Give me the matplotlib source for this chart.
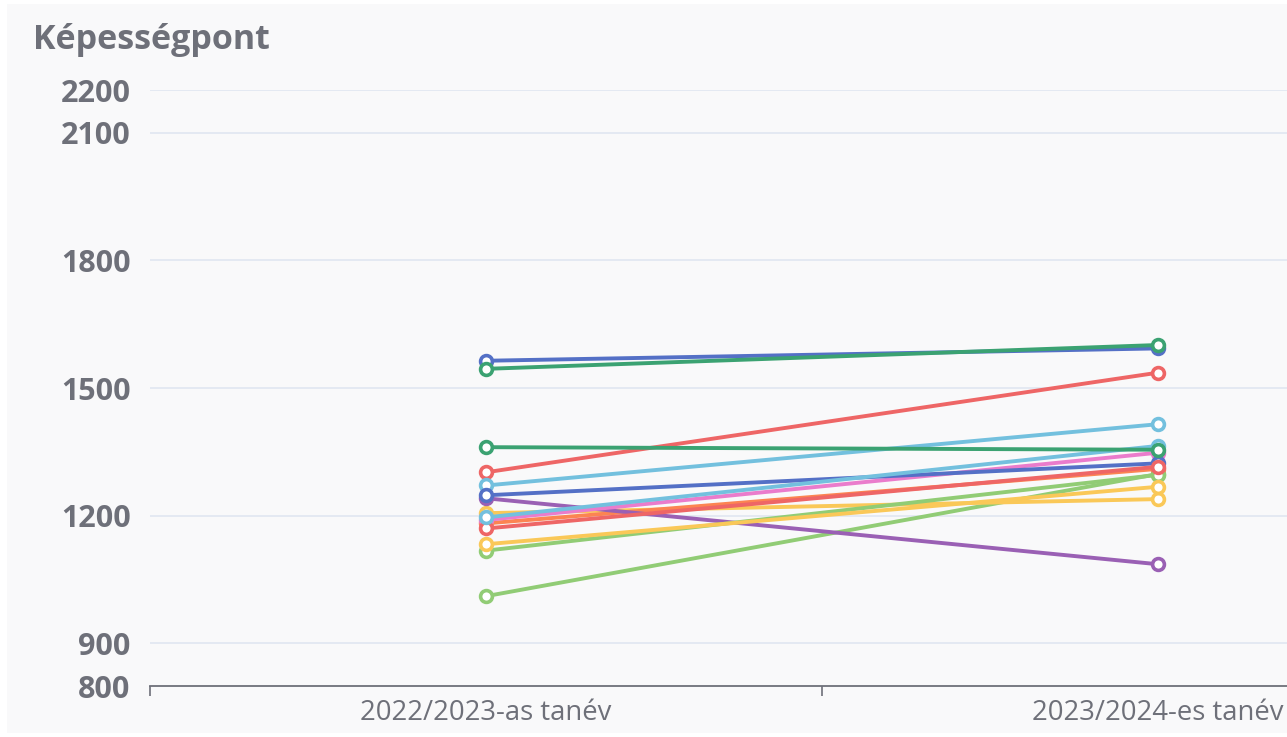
import matplotlib.pyplot as plt
from matplotlib.patches import Rectangle

# school years on the x axis
categories = ['2022/2023-as tanév', '2023/2024-es tanév']

# one pair of values per student (2022/23, 2023/24)
start_values = [1564, 1011, 1206, 1302, 1271, 1545, 1182, 1241, 1190,
                1248, 1118, 1133, 1170, 1196, 1361]
end_values = [1593, 1298, 1239, 1536, 1415, 1601, 1310, 1086, 1348,
              1323, 1296, 1268, 1315, 1364, 1355]

palette = ['#5470c6', '#91cc75', '#fac858', '#ee6666', '#73c0de',
           '#3ba272', '#fc8452', '#9a60b4', '#ea7ccc']

y_ticks = [800, 900, 1200, 1500, 1800, 2100, 2200]

text_color = '#6e7079'
grid_color = '#e0e6f1'

plt.rcParams['font.family'] = ['Open Sans', 'DejaVu Sans']

fig = plt.figure(figsize=(12.87, 7.37), dpi=100)
fig.patch.set_facecolor('white')
# light panel behind the chart
fig.patches.append(Rectangle((7 / 1287, 4 / 737), 1, 1 - 8 / 737,
                             transform=fig.transFigure, facecolor='#f9f9fa',
                             edgecolor='none', zorder=-10))

ax = fig.add_axes([150 / 1287, 1 - 686 / 737, 1344 / 1287, 596 / 737])
ax.set_facecolor('none')

x = list(range(len(categories)))
for i, (a, b) in enumerate(zip(start_values, end_values)):
    color = palette[i % len(palette)]
    ax.plot(x, [a, b], color=color, linewidth=2.8, marker='o',
            markersize=8.5, markerfacecolor='white', markeredgecolor=color,
            markeredgewidth=2.6, zorder=3 + i * 0.01, clip_on=False)

ax.set_xlim(-0.5, 1.5)
ax.set_ylim(800, 2200)

# category ticks at band boundaries, labels in the middle
ax.set_xticks([-0.5, 0.5, 1.5])
ax.set_xticklabels([])
ax.set_xticks(x, minor=True)
ax.set_xticklabels(categories, minor=True)
ax.tick_params(axis='x', which='major', direction='out', length=7,
               width=1.2, color=text_color)
ax.tick_params(axis='x', which='minor', length=0, pad=9,
               labelsize=19.8, labelcolor=text_color)

ax.set_yticks(y_ticks)
ax.set_yticklabels([str(v) for v in y_ticks])
ax.tick_params(axis='y', length=0, pad=14, labelsize=22,
               labelcolor=text_color)
for lbl in ax.get_yticklabels():
    lbl.set_fontweight('bold')

for v in y_ticks[1:]:
    ax.axhline(v, color=grid_color, linewidth=1.2, zorder=1)

for side in ['top', 'right', 'left']:
    ax.spines[side].set_visible(False)
ax.spines['bottom'].set_color(text_color)
ax.spines['bottom'].set_linewidth(1.3)

fig.text(33 / 1287, 1 - 40 / 737, 'Képességpont', fontsize=24.5,
         fontweight='bold', color=text_color, ha='left', va='center')

fig.savefig('out.png', dpi=100, facecolor=fig.get_facecolor())
plt.close()
